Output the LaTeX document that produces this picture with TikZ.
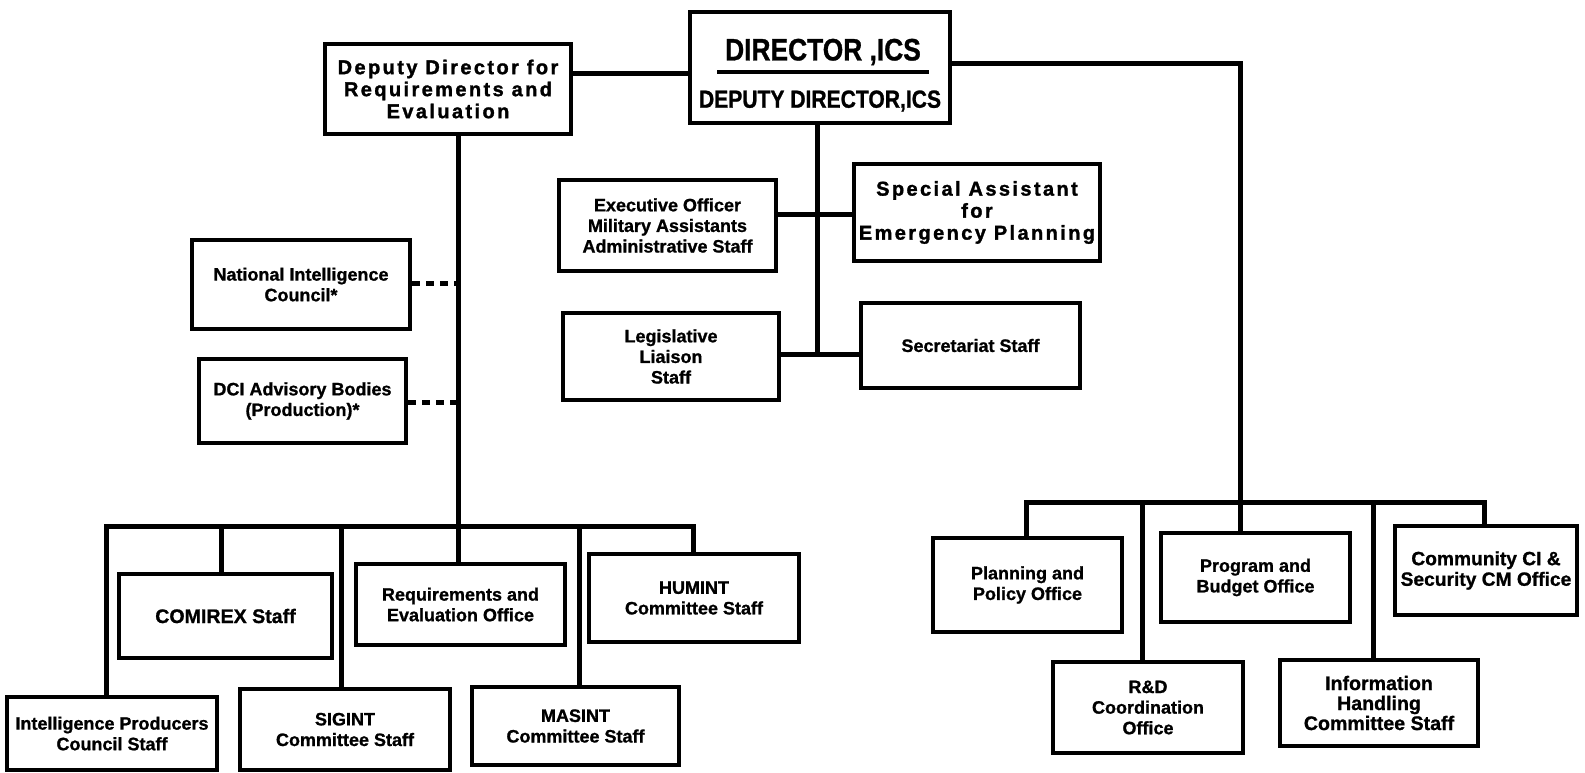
\documentclass[tikz,border=0pt]{standalone}
\usepackage{fontspec}
\setmainfont{Liberation Sans}
\newfontfamily\hvy{Liberation Sans Bold}[FakeBold=1]
\newfontfamily\cnd{Liberation Sans Bold}[FakeBold=1, FakeStretch=0.85]
\newfontfamily\wf{Liberation Sans Bold}[LetterSpace=12, FakeBold=1.5]
\begin{document}
\begin{tikzpicture}[x=0.5pt,y=-0.5pt,
  box/.style={draw, line width=2.4pt, inner sep=2pt, align=center,
    font=\hvy\fontsize{9}{10.3}\selectfont},
  widebox/.style={box, font=\wf\fontsize{10}{11}\selectfont},
  txt/.style={inner sep=0pt, font=\cnd},
  conn/.style={line width=2.5pt, line join=miter, line cap=rect},
  dashc/.style={line width=2.5pt, dash pattern=on 4pt off 3pt}]
\useasboundingbox[fill=white] (0,0) rectangle (1585,772);
% top level
\node[widebox, minimum width=123pt, minimum height=45pt] (dde) at (448,89)
  {Deputy Director for\\Requirements and\\Evaluation};
\node[box, minimum width=130pt, minimum height=55.5pt] (dir) at (820,67.5) {};
\node[txt, font=\cnd\fontsize{15.5}{16}\selectfont] (dirT) at (823,52) {DIRECTOR ,ICS};
\node[txt] (dirU) at (823,72) {\rule{106pt}{1.6pt}};
\node[txt, font=\cnd\fontsize{12.4}{13}\selectfont] (dirD) at (820,101) {DEPUTY DIRECTOR,ICS};
% staff under director
\node[box, minimum width=108.5pt, minimum height=45.5pt] (exec) at (667.5,225.5)
  {Executive Officer\\Military Assistants\\Administrative Staff};
\node[widebox, minimum width=123pt, minimum height=48.5pt] (spec) at (977,212.5)
  {Special Assistant\\for\\Emergency Planning};
\node[box, minimum width=108pt, minimum height=43.5pt] (leg) at (671,356.5)
  {Legislative\\Liaison\\Staff};
\node[box, minimum width=109.5pt, minimum height=42.5pt] (sec) at (970.5,345.5)
  {Secretariat Staff};
% advisory
\node[box, minimum width=109pt, minimum height=44.5pt] (nic) at (301,284.5)
  {National Intelligence\\Council*};
\node[box, minimum width=103.5pt, minimum height=42pt] (dci) at (302.5,401)
  {DCI Advisory Bodies\\(Production)*};
% left group
\node[box, minimum width=106.5pt, minimum height=42pt, font=\hvy\fontsize{9.8}{11}\selectfont] (comirex) at (225.5,616)
  {COMIREX Staff};
\node[box, minimum width=104.5pt, minimum height=40.5pt] (reo) at (460.5,604.5)
  {Requirements and\\Evaluation Office};
\node[box, minimum width=105pt, minimum height=44pt] (humint) at (694,598)
  {HUMINT\\Committee Staff};
\node[box, minimum width=105pt, minimum height=36.5pt] (ipc) at (112,733.5)
  {Intelligence Producers\\Council Staff};
\node[box, minimum width=105pt, minimum height=40.5pt] (sigint) at (345,729.5)
  {SIGINT\\Committee Staff};
\node[box, minimum width=103.5pt, minimum height=39pt] (masint) at (575.5,726)
  {MASINT\\Committee Staff};
% right group
\node[box, minimum width=94.5pt, minimum height=47pt] (ppo) at (1027.5,585)
  {Planning and\\Policy Office};
\node[box, minimum width=94.5pt, minimum height=44.5pt] (pbo) at (1255.5,577.5)
  {Program and\\Budget Office};
\node[box, minimum width=91pt, minimum height=44.5pt, inner sep=0pt, font=\hvy\fontsize{9.6}{10.3}\selectfont] (cci) at (1486,570.5)
  {Community CI \&\\Security CM Office};
\node[box, minimum width=95pt, minimum height=45.5pt] (rd) at (1148,707.5)
  {R\&D\\Coordination\\Office};
\node[box, minimum width=99pt, minimum height=43pt, font=\hvy\fontsize{9.8}{10}\selectfont] (ihc) at (1379,703)
  {Information\\Handling\\Committee Staff};
% bus coordinates
\coordinate (dirR) at (1240,63);
\coordinate (dirB) at (817,354);
\coordinate (ddeB) at (458,526);
\coordinate (lb1) at (106,526);
\coordinate (lb2) at (221,526);
\coordinate (lb3) at (341,526);
\coordinate (lb5) at (579,526);
\coordinate (lb6) at (693,526);
\coordinate (rb1) at (1026,502);
\coordinate (rb2) at (1142,502);
\coordinate (rb3) at (1240,502);
\coordinate (rb4) at (1373,502);
\coordinate (rb5) at (1484,502);
\coordinate (nicJ) at (458,283);
\coordinate (dciJ) at (458,402);
% connectors
\draw[conn] (dde.east |- 0,73) -- (dir.west |- 0,73);
\draw[conn] (dir.east |- dirR) -- (dirR) -- (rb3);
\draw[conn] (dir.south -| dirB) -- (dirB);
\draw[conn] (exec.east |- 0,214) -- (spec.west |- 0,214);
\draw[conn] (leg.east |- dirB) -- (sec.west |- dirB);
\draw[conn] (dde.south -| ddeB) -- (ddeB) -- (ddeB |- reo.north);
\draw[dashc] (nic.east |- nicJ) -- (nicJ);
\draw[dashc] (dci.east |- dciJ) -- (dciJ);
% left bus
\draw[conn] (lb1 |- ipc.north) -- (lb1) -- (lb6) -- (lb6 |- humint.north);
\draw[conn] (lb2) -- (lb2 |- comirex.north);
\draw[conn] (lb3) -- (lb3 |- sigint.north);
\draw[conn] (lb5) -- (lb5 |- masint.north);
% right bus
\draw[conn] (rb1 |- ppo.north) -- (rb1) -- (rb5) -- (rb5 |- cci.north);
\draw[conn] (rb2) -- (rb2 |- rd.north);
\draw[conn] (rb3) -- (rb3 |- pbo.north);
\draw[conn] (rb4) -- (rb4 |- ihc.north);
\end{tikzpicture}
\end{document}
